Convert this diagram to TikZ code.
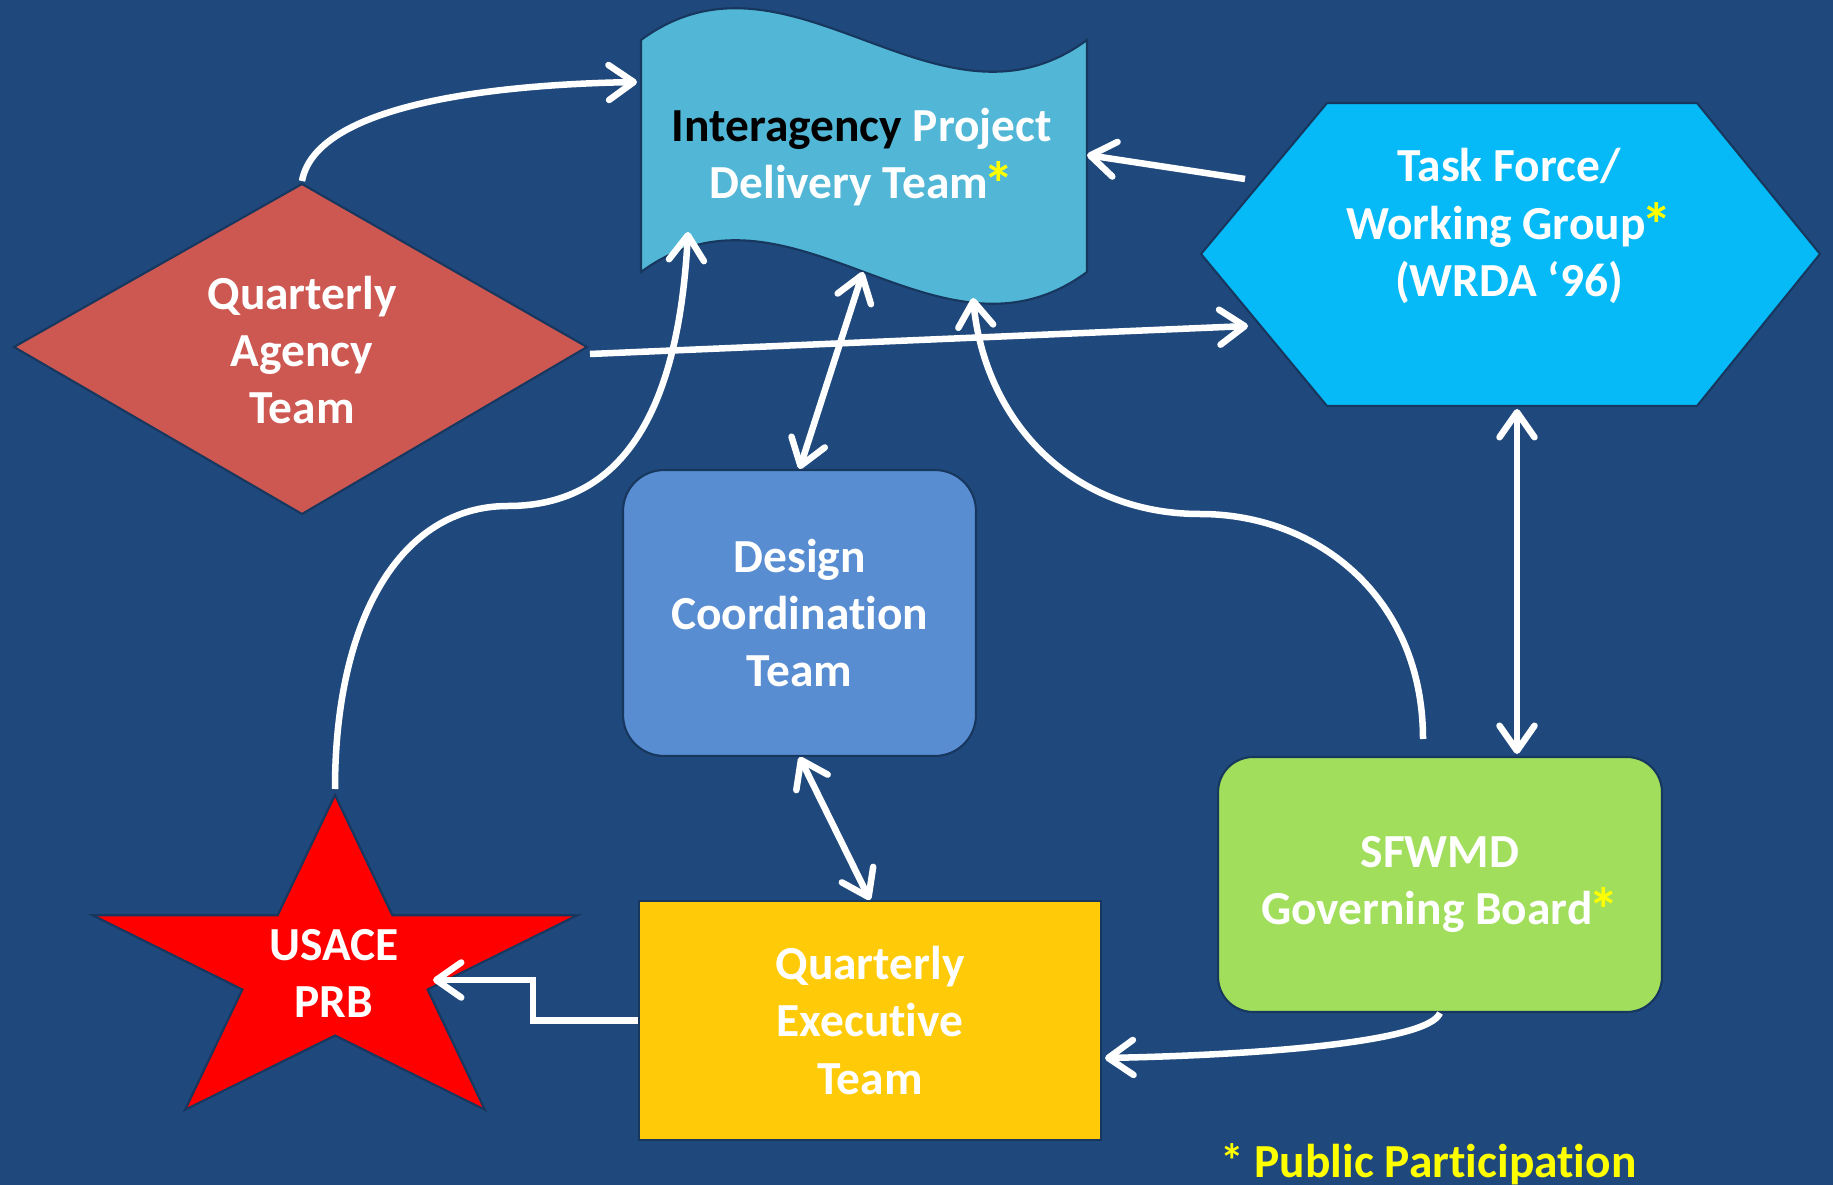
\documentclass[tikz,border=0pt]{standalone}
\usepackage{fontspec}
\setmainfont{Carlito}[Ligatures=NoCommon]
\usepackage{xcolor}
\usepackage{tikz}
\usetikzlibrary{calc,arrows.meta}
\definecolor{bg}{HTML}{1F497D}
\definecolor{edge}{HTML}{17375E}
\definecolor{qatred}{HTML}{CD5852}
\definecolor{ipdtblue}{HTML}{52B7D6}
\definecolor{tfblue}{HTML}{05BAF7}
\definecolor{dctblue}{HTML}{588DD2}
\definecolor{sfgreen}{HTML}{A0DE5C}
\definecolor{qetyellow}{HTML}{FFCA08}
\definecolor{starred}{HTML}{FF0000}
\definecolor{ast}{HTML}{FFFF00}
\newcommand{\pstar}{\kern-2.5pt\textcolor{ast}{\fontsize{35}{35}\selectfont\raisebox{-0.12em}{*}}}
\tikzset{
  link/.style={draw=white, line width=3.7pt, -{Straight Barb[length=0.5cm,width=0.7cm,round]}},
  dlink/.style={draw=white, line width=3.7pt, {Straight Barb[length=0.5cm,width=0.7cm,round]}-{Straight Barb[length=0.5cm,width=0.7cm,round]}},
  blob/.style={draw=edge, line width=1.2pt},
  lbl/.style={text=white, font=\bfseries\fontsize{27}{32.5}\selectfont, align=center, inner sep=0pt},
  rbox/.style={blob, rectangle, inner sep=0pt}
}

\begin{document}
\begin{tikzpicture}[x=0.02cm, y=-0.02cm]
  \useasboundingbox (0,0) rectangle (1833,1185);
  \clip (0,0) rectangle (1833,1185);
  \fill[bg] (0,0) rectangle (1833,1185);

  \filldraw[blob, fill=qatred] (14,347) -- (302,184) -- (587,347) -- (302,514) -- cycle;
  \filldraw[blob, fill=ipdtblue] (641,40) .. controls (790,-70) and (938,150) .. (1087,40)
    -- (1087,272) .. controls (938,382) and (790,162) .. (641,272) -- cycle;
  \filldraw[blob, fill=tfblue] (1201,254) -- (1327,103) -- (1697,103) -- (1820,254) -- (1697,406) -- (1327,406) -- cycle;
  \filldraw[blob, fill=starred] (335,795) -- (277.7,915.2) -- (92.5,915.2) -- (242.4,989.5) -- (185.1,1109.8)
    -- (335,1035.5) -- (484.9,1109.8) -- (427.6,989.5) -- (577.5,915.2) -- (392.3,915.2) -- cycle;

  \node[lbl] (qat) at (302,350) {Quarterly\\Agency\\Team};
  \node[lbl] (ipdt) at (862,157) {{\color{black}Interagency} Project\\Delivery Team\pstar};
  \node[lbl] (tf) at (1509,226) {Task Force/\\Working Group\pstar\\(WRDA ‘96)};
  \node[lbl] (usace) at (334,973) {USACE\\PRB};
  \node[lbl, rbox, fill=dctblue, rounded corners=0.82cm, minimum width=7.06cm, minimum height=5.72cm] (dct) at (799.5,613) {Design\\Coordination\\Team};
  \node[lbl, rbox, fill=sfgreen, rounded corners=0.7cm, minimum width=8.88cm, minimum height=5.1cm] (sfwmd) at (1440,884.5) {SFWMD\\Governing Board\pstar};
  \node[lbl, rbox, fill=qetyellow, minimum width=9.24cm, minimum height=4.78cm] (qet) at (870,1020.5) {Quarterly\\Executive\\Team};
  \node[lbl, text=ast, anchor=base west] (legend) at (1220,1177) {* Public Participation};

  \coordinate (qat-n) at (302,181);
  \coordinate (qat-e) at (590,354);
  \coordinate (ipdt-w) at (637,82);
  \coordinate (ipdt-e) at (1087,155);
  \coordinate (ipdt-s) at (863,272);
  \coordinate (ipdt-sw) at (688,232);
  \coordinate (ipdt-se) at (973,298);
  \coordinate (tf-w) at (1245,179);
  \coordinate (tf-sw) at (1248,326);
  \coordinate (tf-s) at (1517,409);
  \coordinate (sfwmd-n) at (1423,739);
  \coordinate (sfwmd-nt) at (1517,754);
  \coordinate (qet-e) at (1105,1058);
  \coordinate (usace-n) at (335,789);
  \coordinate (usace-e) at (433,980);

  \draw[link] (qat-n) .. controls (315,110) and (470,85) .. (ipdt-w);
  \draw[link] (qat-e) -- (tf-sw);
  \draw[link] (tf-w) -- (ipdt-e);
  \draw[dlink] (ipdt-s) -- (dct.north);
  \draw[dlink] (dct.south) -- (qet.north);
  \draw[dlink] (tf-s) -- (sfwmd-nt);
  \draw[link] (sfwmd.south) .. controls (1428,1042) and (1260,1055) .. (qet-e);
  \draw[link] (sfwmd-n) .. controls (1423,600) and (1320,514) .. (1200,514)
    .. controls (1070,514) and (985,420) .. (ipdt-se);
  \draw[link] (usace-n) .. controls (335,620) and (400,506) .. (508,506)
    .. controls (640,506) and (680,380) .. (ipdt-sw);
  \draw[link] (qet.west) -- ++(-105,0) |- (usace-e);
\end{tikzpicture}
\end{document}
